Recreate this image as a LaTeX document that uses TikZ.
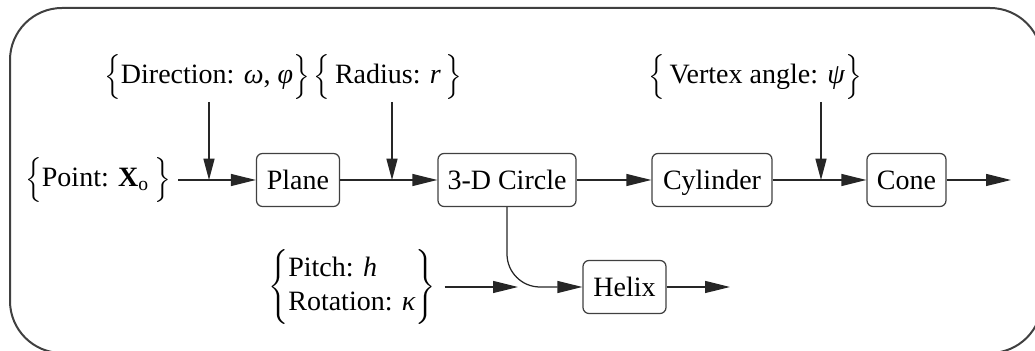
\documentclass[tikz,border=0pt]{standalone}
\usepackage{fontspec}
\setmainfont{Liberation Serif}
\usetikzlibrary{arrows.meta,positioning,calc}

\begin{document}
\begin{tikzpicture}[x=0.4pt, y=-0.4pt,
    font=\fontsize{11.2}{13.5}\selectfont,
    block/.style={draw=black!75, line width=0.5pt, rounded corners=2.4pt, minimum height=21.2pt,
      inner sep=1pt, text height=7.4pt, text depth=0pt},
    param/.style={inner sep=0.8pt},
    flow/.style={draw=black!85, line width=0.5pt, -{Triangle[length=10pt, width=4.8pt]}},
    drop/.style={draw=black!85, line width=0.5pt, -{Triangle[length=8.5pt, width=4.4pt]}}]
\useasboundingbox (0,0) rectangle (1035,351);
\draw[black!75, line width=0.8pt, rounded corners=20.8pt] (10,8) rectangle (1042,353);

% blocks
\node[block, minimum width=33.2pt] (plane) at (298,180) {Plane};
\node[block, minimum width=55.2pt] (circ) at (507,180) {3-D Circle};
\node[block, minimum width=48pt] (cyl) at (712,180) {Cylinder};
\node[block, minimum width=31.6pt] (cone) at (906.5,180) {Cone};
\node[block, minimum width=33.2pt] (helix) at (624.5,287) {Helix};

% parameters
\node[param] (point) at (98,180) {$\Bigl\{$Point: \textbf{X}\textsubscript{o}\,$\Bigr\}$};
\node[param] (dir) at (207,77) {$\Bigl\{$Direction: \textit{ω}, \textit{φ}$\Bigr\}$};
\node[param] (rad) at (388,77) {$\Bigl\{$\,Radius: \textit{r}\,$\Bigr\}$};
\node[param] (vert) at (755,77) {$\Bigl\{$\,Vertex angle: \textit{ψ}$\Bigr\}$};
\node[param] (pitch) at (352,287) {$\left\{\begin{tabular}{@{}l@{}}Pitch: \textit{h}\\Rotation: \textit{κ}\end{tabular}\right\}$};

\coordinate (j1) at (209,180);
\coordinate (j2) at (392,180);
\coordinate (j3) at (821,180);
\coordinate (hin) at (518,287);
\coordinate (out1) at (1011,180);
\coordinate (out2) at (730,287);

% connectors
\draw[flow, shorten <=2pt] (point) -- (plane);
\draw[drop] (dir.south -| j1) -- (j1);
\draw[flow] (plane) -- (circ);
\draw[drop] (rad.south -| j2) -- (j2);
\draw[flow] (circ) -- (cyl);
\draw[flow] (cyl) -- (cone);
\draw[drop] (vert.south -| j3) -- (j3);
\draw[flow] (cone) -- (out1);
\draw[flow, rounded corners=13.2pt] (circ) |- (helix);
\draw[flow, shorten <=2.5pt] (pitch) -- (hin);
\draw[flow] (helix) -- (out2);
\end{tikzpicture}
\end{document}
